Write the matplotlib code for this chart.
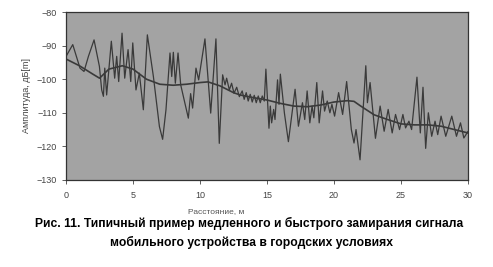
import matplotlib
matplotlib.use("Agg")
import matplotlib.pyplot as plt

# fast fading (distance m, amplitude dB)
fast_x = [0.00, 0.50, 1.04, 1.34, 1.67, 2.09, 2.49, 2.66, 2.79, 2.89, 3.03, 3.38, 3.63, 3.78,
          3.93, 4.18, 4.38, 4.63, 4.83, 4.98, 5.22, 5.47, 5.77, 6.07, 6.52, 6.97, 7.21, 7.46,
          7.76, 7.89, 8.01, 8.16, 8.36, 8.56, 9.13, 9.30, 9.45, 9.70, 9.90, 10.37, 10.80, 11.19,
          11.44, 11.69, 11.87, 11.99, 12.19, 12.36, 12.54, 12.74, 12.94, 13.15, 13.30, 13.45,
          13.60, 13.75, 13.90, 14.05, 14.20, 14.35, 14.50, 14.65, 14.80, 14.92, 15.15, 15.25,
          15.35, 15.50, 15.60, 15.79, 15.90, 16.00, 16.30, 16.60, 17.10, 17.35, 17.65, 17.82,
          18.00, 18.20, 18.37, 18.50, 18.72, 18.90, 19.15, 19.30, 19.50, 19.70, 19.85, 20.05,
          20.35, 20.65, 20.95, 21.30, 21.50, 21.65, 21.95, 22.38, 22.50, 22.70, 23.10, 23.45,
          23.75, 24.05, 24.35, 24.60, 24.90, 25.15, 25.35, 25.60, 25.80, 26.20, 26.45, 26.65,
          26.85, 27.05, 27.30, 27.55, 27.75, 28.00, 28.35, 28.80, 29.15, 29.45, 29.70, 30.00]
fast_y = [-93.2, -89.7, -96.7, -97.7, -93.2, -88.3, -96.2, -103.2, -105.1, -96.7, -104.7, -88.7,
          -99.7, -93.2, -100.7, -86.3, -99.7, -91.2, -100.7, -89.2, -103.2, -98.2, -109.1, -86.8,
          -99.2, -114.1, -117.9, -109.1, -92.2, -99.2, -92.0, -101.2, -92.2, -101.7, -111.6,
          -104.3, -108.6, -96.7, -100.2, -88.0, -110.1, -88.0, -119.1, -98.7, -101.7, -99.7,
          -103.2, -101.2, -104.2, -102.4, -105.2, -103.5, -106.0, -104.0, -106.5, -104.5,
          -106.8, -104.8, -107.0, -105.0, -107.0, -105.0, -106.5, -97.0, -114.6, -108.0,
          -113.0, -109.0, -112.0, -100.2, -107.5, -98.5, -110.0, -118.6, -103.0, -114.0,
          -107.0, -112.0, -103.5, -113.0, -108.0, -111.5, -101.0, -113.0, -103.5, -109.5,
          -106.5, -110.0, -107.5, -111.0, -104.0, -110.5, -100.7, -115.0, -119.0, -115.0,
          -124.0, -96.0, -107.0, -101.0, -117.6, -108.0, -115.5, -109.0, -116.0, -110.5,
          -115.0, -110.5, -114.5, -112.5, -115.0, -99.4, -116.0, -102.4, -120.6, -110.0,
          -117.0, -112.5, -116.5, -111.0, -117.0, -111.0, -117.0, -113.0, -117.5, -115.6]

# slow fading (local mean)
slow_x = [0, 1, 2, 2.5, 3.2, 4.2, 5, 6, 7, 8, 9, 10, 10.6, 11.5, 12.5, 13, 14, 15, 16, 17,
          18, 19, 20, 21, 21.5, 22, 23, 24, 25, 26, 27, 28, 29, 30]
slow_y = [-94, -96, -98.5, -99.7, -97, -96, -97, -100, -101.5, -101.8, -101.5, -101, -100.8,
          -102, -104, -104.7, -105.5, -106.2, -107.2, -108, -108.2, -107.7, -106.8, -106.4,
          -106.6, -108, -110.6, -112, -113.3, -113.6, -113.6, -114, -115, -116]

x_ticks = [0, 5, 10, 15, 20, 25, 30]
y_ticks = [-80, -90, -100, -110, -120, -130]

plt.rcParams['font.family'] = ['Liberation Sans Narrow', 'Liberation Sans', 'DejaVu Sans']

fig = plt.figure(figsize=(4.93, 2.67), dpi=100)
ax = fig.add_axes([0.134, 0.326, 0.815, 0.629])
ax.set_facecolor('#a3a3a3')

ax.plot(fast_x, fast_y, color='#3a3a3a', lw=0.9, solid_joinstyle='round')
ax.plot(slow_x, slow_y, color='#3a3a3a', lw=1.2, solid_joinstyle='round')

ax.set_xlim(0, 30)
ax.set_ylim(-130, -80)
ax.set_xticks(x_ticks)
ax.set_yticks(y_ticks)
ax.set_yticklabels(['\u2212' + str(-v) for v in y_ticks])
ax.tick_params(labelsize=6.5, colors='#444444', length=3, width=0.6)
ax.tick_params(axis='x', pad=5)
for s in ax.spines.values():
    s.set_color('#333333')
    s.set_linewidth(0.9)

ax.set_ylabel('Амплитуда, дБ[m]', fontsize=6.5, color='#444444', labelpad=4)
fig.text(0.438, 0.207, 'Расстояние, м', fontsize=6, color='#555555', ha='center', va='center')

fig.text(0.505, 0.163, 'Рис. 11. Типичный пример медленного и быстрого замирания сигнала',
         fontsize=8.7, fontweight='bold', ha='center', va='center')
fig.text(0.51, 0.093, 'мобильного устройства в городских условиях',
         fontsize=8.7, fontweight='bold', ha='center', va='center')

fig.savefig('out.png', dpi=100)
